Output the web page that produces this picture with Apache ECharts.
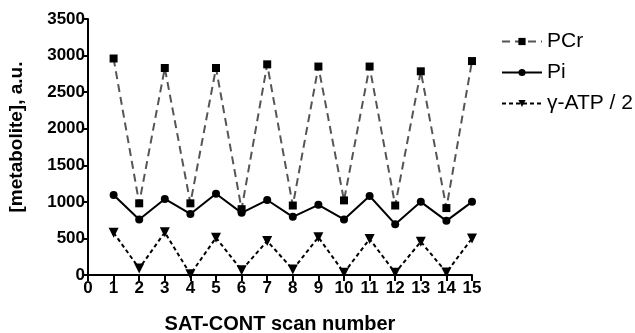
<!DOCTYPE html>
<html style="height: 100%">
<head>
<meta charset="utf-8">
<script src="https://cdn.jsdelivr.net/npm/echarts@6/dist/echarts.min.js"></script>
</head>
<body style="height: 100%; margin: 0; background: #fff">
<div id="container" style="width: 635px; height: 333px"></div>
<script type="text/javascript">
var scans = [1, 2, 3, 4, 5, 6, 7, 8, 9, 10, 11, 12, 13, 14, 15];
var pcr = [2960, 980, 2830, 980, 2830, 900, 2880, 950, 2850, 1020, 2850, 950, 2785, 915, 2925];
var pi = [1095, 760, 1040, 835, 1110, 850, 1025, 795, 960, 760, 1080, 695, 1000, 740, 1000];
var atpHalf = [578, 90, 583, 10, 510, 65, 465, 75, 515, 30, 492, 30, 455, 35, 500];

function pairs(vals) {
    return scans.map(function (s, i) { return [s, vals[i]]; });
}

var myChart = echarts.init(document.getElementById('container'));
var font = 'Liberation Sans';
var tickFont = { color: '#000', fontWeight: 'bold', fontSize: 17, fontFamily: font };
var titleFont = { color: '#000', fontWeight: 'bold', fontSize: 20, fontFamily: font };

var option = {
    animation: false,
    grid: { left: 88, right: 163, top: 19, bottom: 58, outerBoundsMode: 'none', containLabel: false },
    legend: {
        orient: 'vertical',
        left: 496,
        top: 26,
        itemWidth: 40,
        itemHeight: 9,
        itemGap: 10,
        textStyle: { color: '#000', fontSize: 21, lineHeight: 21, fontFamily: font },
        data: ['PCr', 'Pi', 'γ-ATP / 2']
    },
    xAxis: {
        type: 'value',
        min: 0, max: 15, interval: 1,
        name: 'SAT-CONT scan number',
        nameLocation: 'middle',
        nameGap: 39,
        nameTextStyle: titleFont,
        axisLine: { onZero: false, lineStyle: { color: '#000', width: 2 } },
        axisTick: { length: 6, lineStyle: { color: '#000', width: 2 } },
        axisLabel: Object.assign({ margin: 5 }, tickFont),
        splitLine: { show: false }
    },
    yAxis: {
        type: 'value',
        min: 0, max: 3500, interval: 500,
        name: '[metabolite], a.u.',
        nameLocation: 'middle',
        nameGap: 62,
        nameTextStyle: Object.assign({}, titleFont, { fontSize: 19, padding: [0, 0, 0, 20] }),
        axisLine: { show: true, lineStyle: { color: '#000', width: 2 } },
        axisTick: { show: true, length: 6, lineStyle: { color: '#000', width: 2 } },
        axisLabel: Object.assign({ margin: 3, formatter: function (v) { return String(v); } }, tickFont),
        splitLine: { show: false }
    },
    series: [
        {
            name: 'PCr', type: 'line',
            data: pairs(pcr),
            symbol: 'rect', symbolSize: 8,
            itemStyle: { color: '#000' },
            lineStyle: { color: '#555', width: 2, type: [8, 5] }
        },
        {
            name: 'Pi', type: 'line',
            data: pairs(pi),
            symbol: 'circle', symbolSize: 8,
            itemStyle: { color: '#000' },
            lineStyle: { color: '#000', width: 2 }
        },
        {
            name: 'γ-ATP / 2', type: 'line',
            data: pairs(atpHalf),
            symbol: 'triangle', symbolRotate: 180, symbolSize: 10,
            itemStyle: { color: '#000' },
            lineStyle: { color: '#000', width: 2, type: [4, 3] }
        }
    ]
};
myChart.setOption(option);
</script>
</body>
</html>
